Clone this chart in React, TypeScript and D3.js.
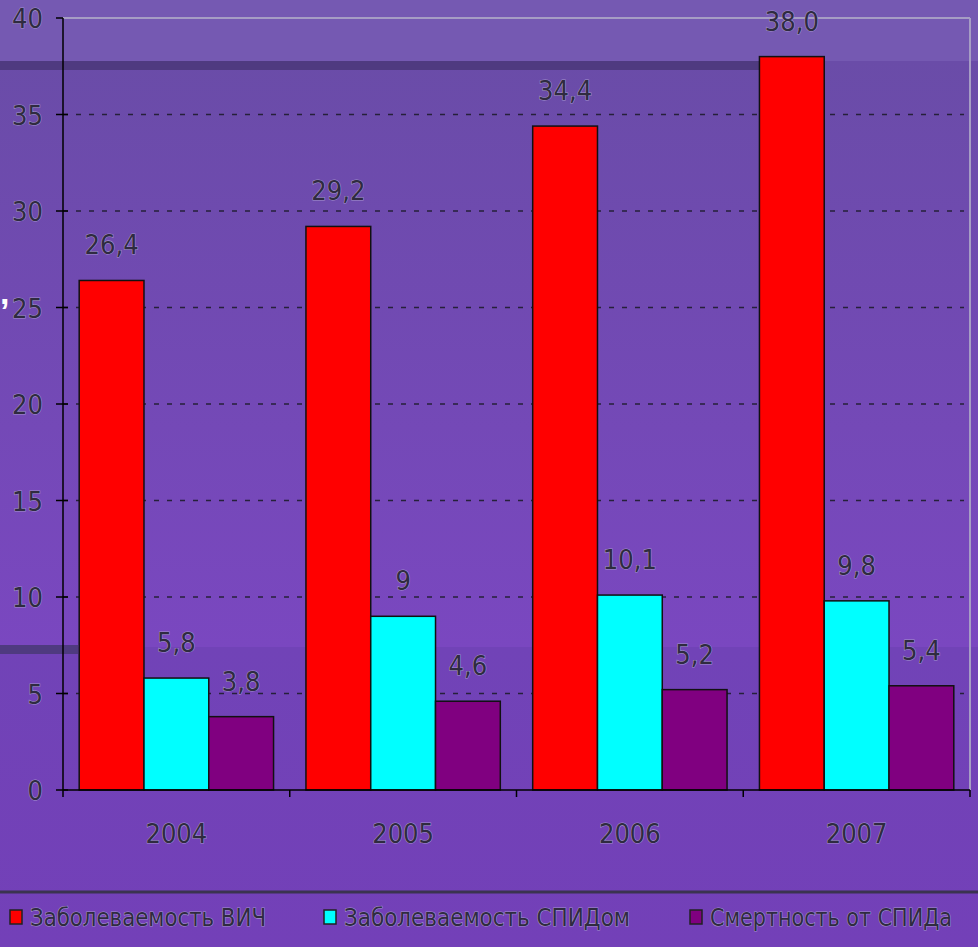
import React from 'react';
import * as d3 from 'd3';

const years = ['2004', '2005', '2006', '2007'];
const seriesNames = ['Заболеваемость ВИЧ', 'Заболеваемость СПИДом', 'Смертность от СПИДа'];
const seriesColors = ['#ff0000', '#00ffff', '#800080'];
const hivValues = [26.4, 29.2, 34.4, 38.0];
const aidsValues = [5.8, 9, 10.1, 9.8];
const deathValues = [3.8, 4.6, 5.2, 5.4];
const hivLabels = ['26,4', '29,2', '34,4', '38,0'];
const aidsLabels = ['5,8', '9', '10,1', '9,8'];
const deathLabels = ['3,8', '4,6', '5,2', '5,4'];
const yTicks = [0, 5, 10, 15, 20, 25, 30, 35, 40];

const series = [
  { name: seriesNames[0], values: hivValues, labels: hivLabels, color: seriesColors[0] },
  { name: seriesNames[1], values: aidsValues, labels: aidsLabels, color: seriesColors[1] },
  { name: seriesNames[2], values: deathValues, labels: deathLabels, color: seriesColors[2] },
];

const width = 978;
const height = 947;
const marginLeft = 63;
const marginRight = 8;
const marginTop = 18;
const plotBottom = 790;

const font = '"Liberation Sans Narrow", "DejaVu Sans Condensed", "Liberation Sans", sans-serif';
const textFill = '#2f2b40';
const halo = '#a293cc';

const Label = (props: any) => (
  <text
    fontFamily={font}
    fontSize={27}
    fill={textFill}
    stroke={halo}
    strokeWidth={1.1}
    paintOrder="stroke"
    {...props}
  />
);

export default function App() {
  const x = d3.scaleBand().domain(years).range([marginLeft, width - marginRight]).padding(0);
  // gap width 50% of a bar: outer padding 0.25 step on each side
  const xs = d3.scaleBand().domain(seriesNames).range([0, x.bandwidth()]).paddingInner(0).paddingOuter(0.25);
  const y = d3.scaleLinear().domain([0, 40]).range([plotBottom, marginTop]);
  const right = width - marginRight;

  const legendX = [10, 324, 690];
  const legendW = [256, 306, 262];

  return (
    <svg width={width} height={height} style={{ position: 'absolute', left: 0, top: 0, display: 'block' }}>
      <defs>
        <linearGradient id="bg" x1="0" y1="0" x2="0" y2={height} gradientUnits="userSpaceOnUse">
          <stop offset={0} stopColor="#7559b2" />
          <stop offset={61 / height} stopColor="#7559b2" />
          <stop offset={61 / height} stopColor="#6a4ca8" />
          <stop offset={647 / height} stopColor="#7a47c0" />
          <stop offset={647 / height} stopColor="#7143b7" />
          <stop offset={1} stopColor="#7340b8" />
        </linearGradient>
      </defs>
      <rect x={0} y={0} width={width} height={height} fill="url(#bg)" />
      <rect x={0} y={61} width={760} height={9} fill="#4f3a80" />
      <rect x={0} y={645} width={78} height={9} fill="#4f3a80" />
      <text x={0} y={304} fontFamily="Liberation Sans, sans-serif" fontSize={34} fontWeight="bold" fill="#ffffff">,</text>

      {/* gridlines */}
      {yTicks.filter((t) => t > 0 && t < 40).map((t) => (
        <line key={t} x1={marginLeft} x2={right - 6} y1={y(t)} y2={y(t)} stroke="#26203a" strokeWidth={1.5} strokeDasharray="5,8" />
      ))}
      <line x1={marginLeft} x2={right} y1={y(40)} y2={y(40)} stroke="#a69dc4" strokeWidth={2} />
      <line x1={right} x2={right} y1={y(40)} y2={plotBottom} stroke="#a69dc4" strokeWidth={2} />

      {/* bars */}
      {series.map((s) => (
        <g key={s.name}>
          {years.map((yr, i) => (
            <rect
              key={yr}
              x={(x(yr) as number) + (xs(s.name) as number)}
              y={y(s.values[i])}
              width={xs.bandwidth()}
              height={y(0) - y(s.values[i])}
              fill={s.color}
              stroke="#111"
              strokeWidth={1.5}
            />
          ))}
        </g>
      ))}

      {/* data labels */}
      {series.map((s) => (
        <g key={s.name + '-l'}>
          {years.map((yr, i) => (
            <Label
              key={yr}
              x={(x(yr) as number) + (xs(s.name) as number) + xs.bandwidth() / 2}
              y={y(s.values[i]) - 26}
              textAnchor="middle"
            >
              {s.labels[i]}
            </Label>
          ))}
        </g>
      ))}

      {/* y axis */}
      <line x1={marginLeft} x2={marginLeft} y1={marginTop} y2={plotBottom + 7} stroke="#000" strokeWidth={1.5} />
      {yTicks.map((t) => (
        <g key={t}>
          <line x1={marginLeft - 7} x2={t === 40 ? marginLeft : marginLeft + 5} y1={y(t)} y2={y(t)} stroke="#000" strokeWidth={1.5} />
          <Label x={43} y={y(t) + 10} textAnchor="end">{t}</Label>
        </g>
      ))}

      {/* x axis */}
      <line x1={marginLeft} x2={right} y1={plotBottom} y2={plotBottom} stroke="#000" strokeWidth={1.5} />
      {years.map((yr) => (
        <line key={yr} x1={(x(yr) as number) + x.bandwidth()} x2={(x(yr) as number) + x.bandwidth()} y1={plotBottom} y2={plotBottom + 7} stroke="#000" strokeWidth={1.5} />
      ))}
      {years.map((yr) => (
        <Label key={yr + '-t'} x={(x(yr) as number) + x.bandwidth() / 2} y={843} textAnchor="middle">{yr}</Label>
      ))}

      {/* legend */}
      <line x1={0} x2={width} y1={892} y2={892} stroke="#3b3350" strokeWidth={3} />
      {series.map((s, i) => (
        <g key={s.name + '-lg'}>
          <rect x={legendX[i]} y={910} width={12} height={14} fill={s.color} stroke="#222" strokeWidth={1.5} />
          <Label x={legendX[i] + 20} y={926} fontSize={24} textLength={legendW[i] - 20} lengthAdjust="spacingAndGlyphs">{s.name}</Label>
        </g>
      ))}
    </svg>
  );
}
